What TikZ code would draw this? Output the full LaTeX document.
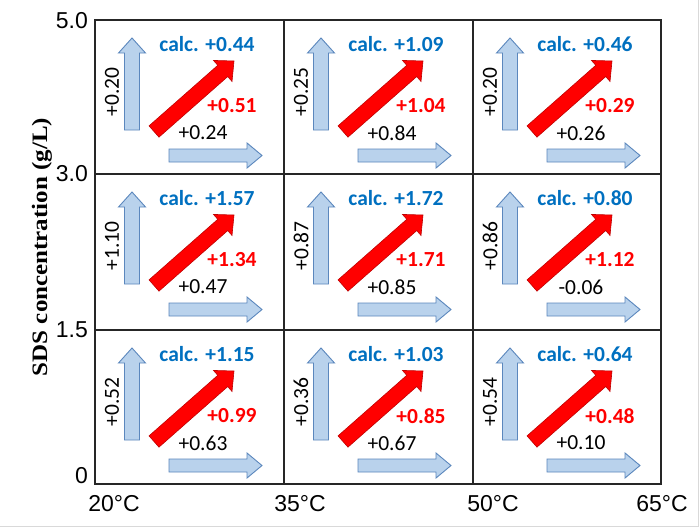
\documentclass[tikz,border=0pt]{standalone}
\usepackage{fontspec}
\setmainfont{Carlito}
\newfontfamily\axisfont{Liberation Sans}
\newfontfamily\labfont{Liberation Serif}
\definecolor{arrfill}{HTML}{B9D2EC}
\definecolor{arrline}{HTML}{5B87BD}
\definecolor{calcblue}{HTML}{0070C0}
\definecolor{redfill}{HTML}{FF0000}
\definecolor{redline}{HTML}{C00000}
\tikzset{
  bluearrow/.style={fill=arrfill, draw=arrline, line width=0.9pt, line join=miter},
  redarrow/.style={fill=redfill, draw=redline, line width=0.6pt, line join=miter},
  calctext/.style={font=\fontsize{21.5}{24}\selectfont\bfseries, text=calcblue, inner sep=0pt},
  redtext/.style={font=\fontsize{21.5}{24}\selectfont\bfseries, text=redfill, inner sep=0pt},
  blacktext/.style={font=\fontsize{21.5}{24}\selectfont, text=black, inner sep=0pt},
  ticklab/.style={font=\axisfont\fontsize{23}{26}\selectfont, inner sep=0pt},
  gridline/.style={draw=black!85, line width=1.1pt}
}
\newcommand\sdscell[7]{%
  \begin{scope}[shift={(#2,#3)}]
    \filldraw[bluearrow] (29.5,110) -- (29.5,33) -- (23.5,33) -- (37,18) -- (50.5,33) -- (44.5,33) -- (44.5,110) -- cycle;
    \filldraw[bluearrow] (74,129) -- (152,129) -- (152,123) -- (167,135.5) -- (152,148) -- (152,142) -- (74,142) -- cycle;
    \filldraw[redarrow] (54.04,105.87) -- (122.79,45.29) -- (118.49,40.42) -- (139,41) -- (137.01,61.42) -- (132.71,56.55) -- (63.96,117.13) -- cycle;
    \node[calctext] (#1c) at (112,24) {calc. #7};
    \node[redtext] (#1r) at (137,86) {#6};
    \node[blacktext] (#1h) at (108,113) {#5};
    \node[blacktext, rotate=90] (#1v) at (17,72) {#4};
  \end{scope}}
\begin{document}
\begin{tikzpicture}[x=1pt,y=-1pt]
\useasboundingbox (0,0) rectangle (700,528);
\fill[white] (0,0) rectangle (700,528);
\draw[black!15, line width=1pt] (698.5,0) -- (698.5,526.5) -- (0,526.5);
% grid
\draw[gridline] (95,20) rectangle (661,484);
\draw[gridline] (284,20) -- (284,484);
\draw[gridline] (473,20) -- (473,484);
\draw[gridline] (95,174) -- (661,174);
\draw[gridline] (95,330) -- (661,330);
% cells
\sdscell{a}{95}{20}{+0.20}{+0.24}{+0.51}{+0.44}
\sdscell{b}{284}{20}{+0.25}{+0.84}{+1.04}{+1.09}
\sdscell{c}{473}{20}{+0.20}{+0.26}{+0.29}{+0.46}
\sdscell{d}{95}{174}{+1.10}{+0.47}{+1.34}{+1.57}
\sdscell{e}{284}{174}{+0.87}{+0.85}{+1.71}{+1.72}
\sdscell{f}{473}{174}{+0.86}{-0.06}{+1.12}{+0.80}
\sdscell{g}{95}{330}{+0.52}{+0.63}{+0.99}{+1.15}
\sdscell{h}{284}{330}{+0.36}{+0.67}{+0.85}{+1.03}
\sdscell{i}{473}{330}{+0.54}{+0.10}{+0.48}{+0.64}
% y ticks
\node[ticklab, anchor=east] (y50) at (88,21) {5.0};
\node[ticklab, anchor=east] (y30) at (88,174) {3.0};
\node[ticklab, anchor=east] (y15) at (88,330) {1.5};
\node[ticklab, anchor=east] (y0) at (88,476) {0};
% x ticks
\node[ticklab] (x20) at (114,504) {20°C};
\node[ticklab] (x35) at (300,504) {35°C};
\node[ticklab] (x50) at (493,504) {50°C};
\node[ticklab] (x65) at (662,504) {65°C};
% y label
\node[font=\labfont\bfseries\fontsize{25}{28}\selectfont, rotate=90, yscale=0.88, inner sep=0pt] (ylab) at (42,247) {SDS concentration (g/L)};
\end{tikzpicture}
\end{document}
